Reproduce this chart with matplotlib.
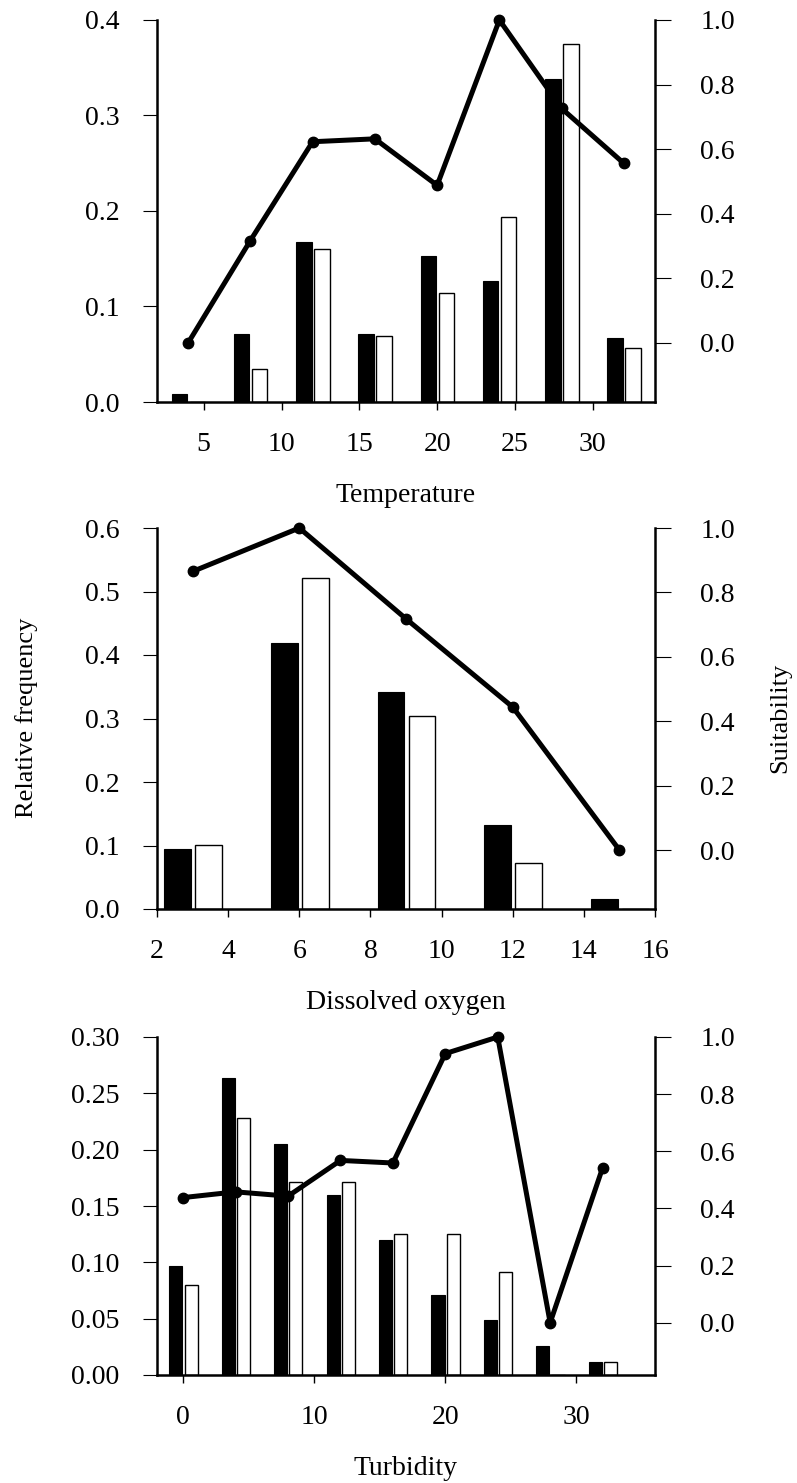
import matplotlib
matplotlib.use('Agg')
import matplotlib.pyplot as plt
import numpy as np

plt.rcParams['font.family'] = ['Liberation Serif', 'DejaVu Serif']

# Temperature panel
temp_x = [4, 8, 12, 16, 20, 24, 28, 32]
temp_black = [0.008, 0.071, 0.168, 0.071, 0.153, 0.127, 0.338, 0.067]
temp_white = [0.0, 0.035, 0.160, 0.069, 0.114, 0.194, 0.375, 0.057]
temp_suit = [0.0, 0.317, 0.623, 0.632, 0.488, 1.0, 0.726, 0.556]

# Dissolved oxygen panel
do_x = [3, 6, 9, 12, 15]
do_black = [0.095, 0.419, 0.341, 0.132, 0.016]
do_white = [0.101, 0.522, 0.304, 0.072, 0.0]
do_suit = [0.865, 1.0, 0.718, 0.444, 0.0]

# Turbidity panel
turb_x = [0, 4, 8, 12, 16, 20, 24, 28, 32]
turb_black = [0.097, 0.264, 0.205, 0.160, 0.120, 0.071, 0.049, 0.026, 0.0115]
turb_white = [0.080, 0.228, 0.171, 0.171, 0.125, 0.125, 0.091, 0.0, 0.0115]
turb_suit = [0.438, 0.458, 0.443, 0.568, 0.559, 0.942, 1.0, 0.0, 0.542]

panels = [
    dict(x=temp_x, black=temp_black, white=temp_white, suit=temp_suit, step=4,
         xlim=(2, 34), xticks=[5, 10, 15, 20, 25, 30], ylim=(0, 0.4),
         yticks=[0.0, 0.1, 0.2, 0.3, 0.4], yfmt='%.1f', label='Temperature',
         pos=[157, 20, 402]),
    dict(x=do_x, black=do_black, white=do_white, suit=do_suit, step=3,
         xlim=(2, 16), xticks=[2, 4, 6, 8, 10, 12, 14, 16], ylim=(0, 0.6),
         yticks=[0.0, 0.1, 0.2, 0.3, 0.4, 0.5, 0.6], yfmt='%.1f',
         label='Dissolved oxygen', pos=[157, 528, 909]),
    dict(x=turb_x, black=turb_black, white=turb_white, suit=turb_suit, step=4,
         xlim=(-2, 36), xticks=[0, 10, 20, 30], ylim=(0, 0.30),
         yticks=[0.0, 0.05, 0.10, 0.15, 0.20, 0.25, 0.30], yfmt='%.2f',
         label='Turbidity', pos=[157, 1037, 1375]),
]

W, H = 797, 1483
fig = plt.figure(figsize=(W / 100, H / 100), dpi=100)

for p in panels:
    left, top, bottom = p['pos']
    ax = fig.add_axes([left / W, 1 - bottom / H, (655 - left) / W, (bottom - top) / H])
    x = np.array(p['x'], dtype=float)
    s = p['step']
    ax.bar(x - 0.14 * s, p['black'], 0.25 * s, color='black', edgecolor='black', linewidth=0.8)
    ax.bar(x + 0.15 * s, p['white'], 0.25 * s, color='white', edgecolor='black', linewidth=1.0)
    ax.set_xlim(*p['xlim'])
    ax.set_ylim(*p['ylim'])
    ax.set_xticks(p['xticks'])
    ax.set_yticks(p['yticks'])
    ax.set_yticklabels([p['yfmt'] % v for v in p['yticks']])
    ax.spines['top'].set_visible(False)
    ax.spines['right'].set_visible(False)
    ax.spines['left'].set_linewidth(1.8)
    ax.spines['bottom'].set_linewidth(1.8)
    ax.tick_params(axis='x', direction='out', length=5.8, width=1.0, pad=16, labelsize=20)
    ax.tick_params(axis='y', direction='out', length=10, width=0.8, pad=17, labelsize=20)

    ax2 = ax.twinx()
    ax2.plot(x, p['suit'], color='black', linewidth=3.6, marker='o', markersize=7.5,
             clip_on=False, solid_joinstyle='round')
    ax2.set_ylim(-0.183, 1.0)
    ax2.set_yticks([0.0, 0.2, 0.4, 0.6, 0.8, 1.0])
    ax2.set_yticklabels(['%.1f' % v for v in [0.0, 0.2, 0.4, 0.6, 0.8, 1.0]])
    for sp in ['top', 'left', 'bottom']:
        ax2.spines[sp].set_visible(False)
    ax2.spines['right'].set_linewidth(1.8)
    ax2.tick_params(axis='y', direction='out', length=11.5, width=0.8, pad=21, labelsize=20)

    fig.text((157 + 655) / 2 / W, 1 - (bottom + 100) / H, p['label'],
             ha='center', va='baseline', fontsize=20)

fig.text(27 / W, 1 - 718 / H, 'Relative frequency', rotation=90,
         ha='center', va='center', fontsize=19)
fig.text(780 / W, 1 - 718 / H, 'Suitability', rotation=90,
         ha='center', va='center', fontsize=19)

fig.savefig('out.png', dpi=100)
